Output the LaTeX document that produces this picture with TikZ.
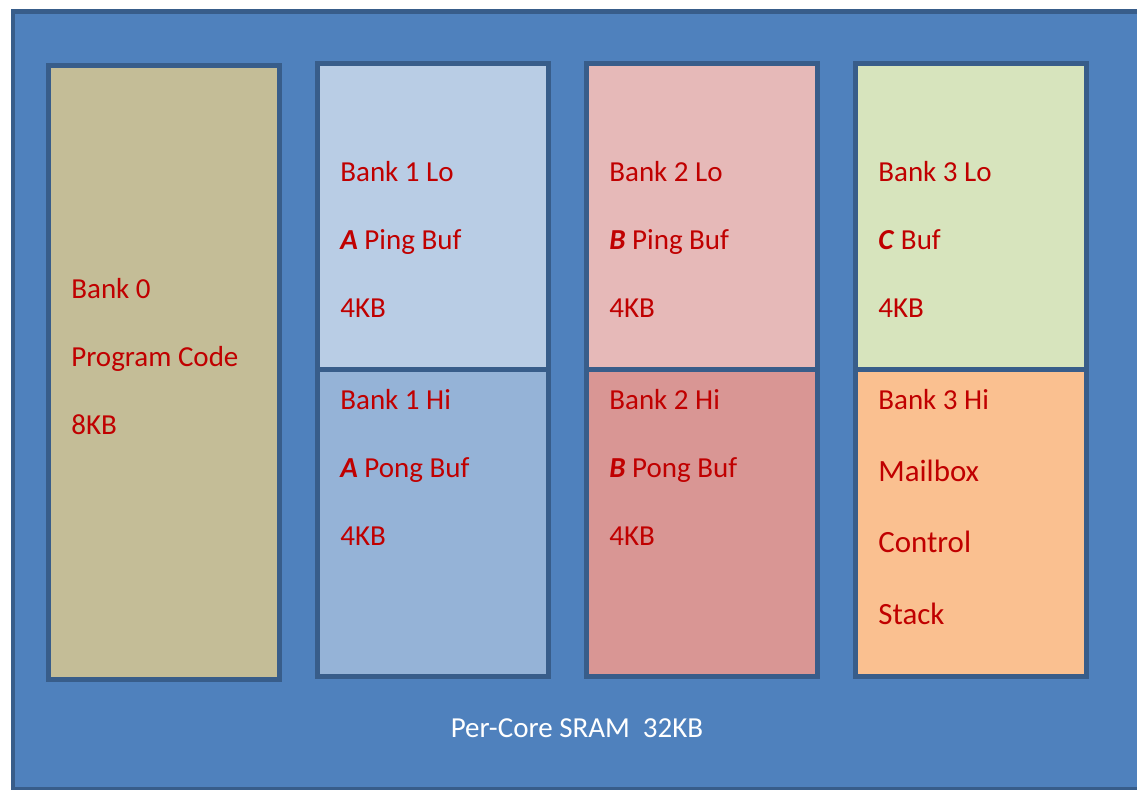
\documentclass[tikz,border=0pt]{standalone}
\usepackage{fontspec}
\setmainfont{Carlito}
\definecolor{sramblue}{RGB}{79,129,189}
\definecolor{sramedge}{RGB}{56,93,138}
\definecolor{codetan}{RGB}{196,189,151}
\definecolor{bluelo}{RGB}{185,205,229}
\definecolor{bluehi}{RGB}{149,179,215}
\definecolor{redlo}{RGB}{230,185,184}
\definecolor{redhi}{RGB}{217,150,148}
\definecolor{greenlo}{RGB}{215,228,189}
\definecolor{orangehi}{RGB}{250,192,144}
\definecolor{labelred}{RGB}{192,0,0}
\usetikzlibrary{positioning}
\tikzset{
  bankbox/.style={draw=sramedge, line width=0.1cm, anchor=north west, minimum width=4.62cm, inner sep=0pt, outer sep=0pt},
  banktext/.style={anchor=base west, text=labelred, inner sep=0pt, font=\fontsize{16.5}{20}\selectfont},
  bigtext/.style={banktext, font=\fontsize{17.6}{21}\selectfont},
}

\begin{document}
\begin{tikzpicture}[x=0.02cm,y=-0.02cm]
  \useasboundingbox (0,0) rectangle (1137,790);
  % outer SRAM block
  \node[draw=sramedge, fill=sramblue, line width=0.1cm, anchor=north west, minimum width=23cm, minimum height=15.55cm, inner sep=0pt] (sram) at (10.5,9.5) {};
  \node[anchor=base, text=white, inner sep=0pt, font=\fontsize{16.5}{20}\selectfont] (sramlabel) at (577,738) {Per-Core SRAM\ \ 32KB};

  % bank 0 (one box)
  \node[bankbox, fill=codetan, minimum height=12.29cm] (bank0) at (48.5,65.5) {};
  \node[banktext] (bank0name) at (71,299) {Bank 0};
  \node[banktext] (bank0use) at (71,367) {Program Code};
  \node[banktext] (bank0size) at (71,435) {8KB};

  % banks 1-3, lo and hi halves
  \foreach \i/\lo/\hi in {1/bluelo/bluehi, 2/redlo/redhi, 3/greenlo/orangehi} {
    \node[bankbox, fill=\lo, minimum height=6.12cm] (bank\i lo) at (48.5+269*\i,63.5) {};
    \node[bankbox, fill=\hi, minimum height=6.14cm] (bank\i hi) at (48.5+269*\i,369.5) {};
    \node[banktext] (bank\i loname) at (71+269*\i,182) {Bank \i\ Lo};
    \node[banktext] (bank\i losize) at (71+269*\i,318) {4KB};
    \node[banktext] (bank\i hiname) at (71+269*\i,410) {Bank \i\ Hi};
  }

  % ping-pong buffers
  \foreach \i/\buf in {1/A, 2/B} {
    \node[banktext] (bank\i louse) at (71+269*\i,250) {\textbf{\textit{\buf}} Ping Buf};
    \node[banktext] (bank\i hiuse) at (71+269*\i,478) {\textbf{\textit{\buf}} Pong Buf};
    \node[banktext] (bank\i hisize) at (71+269*\i,546) {4KB};
  }

  % bank 3 contents
  \node[banktext] (bank3louse) at (878,250) {\textbf{\textit{C}} Buf};
  \node[bigtext] (mailbox) at (878,482) {Mailbox};
  \node[bigtext] (control) at (878,553) {Control};
  \node[bigtext] (stack) at (878,625) {Stack};
\end{tikzpicture}
\end{document}
